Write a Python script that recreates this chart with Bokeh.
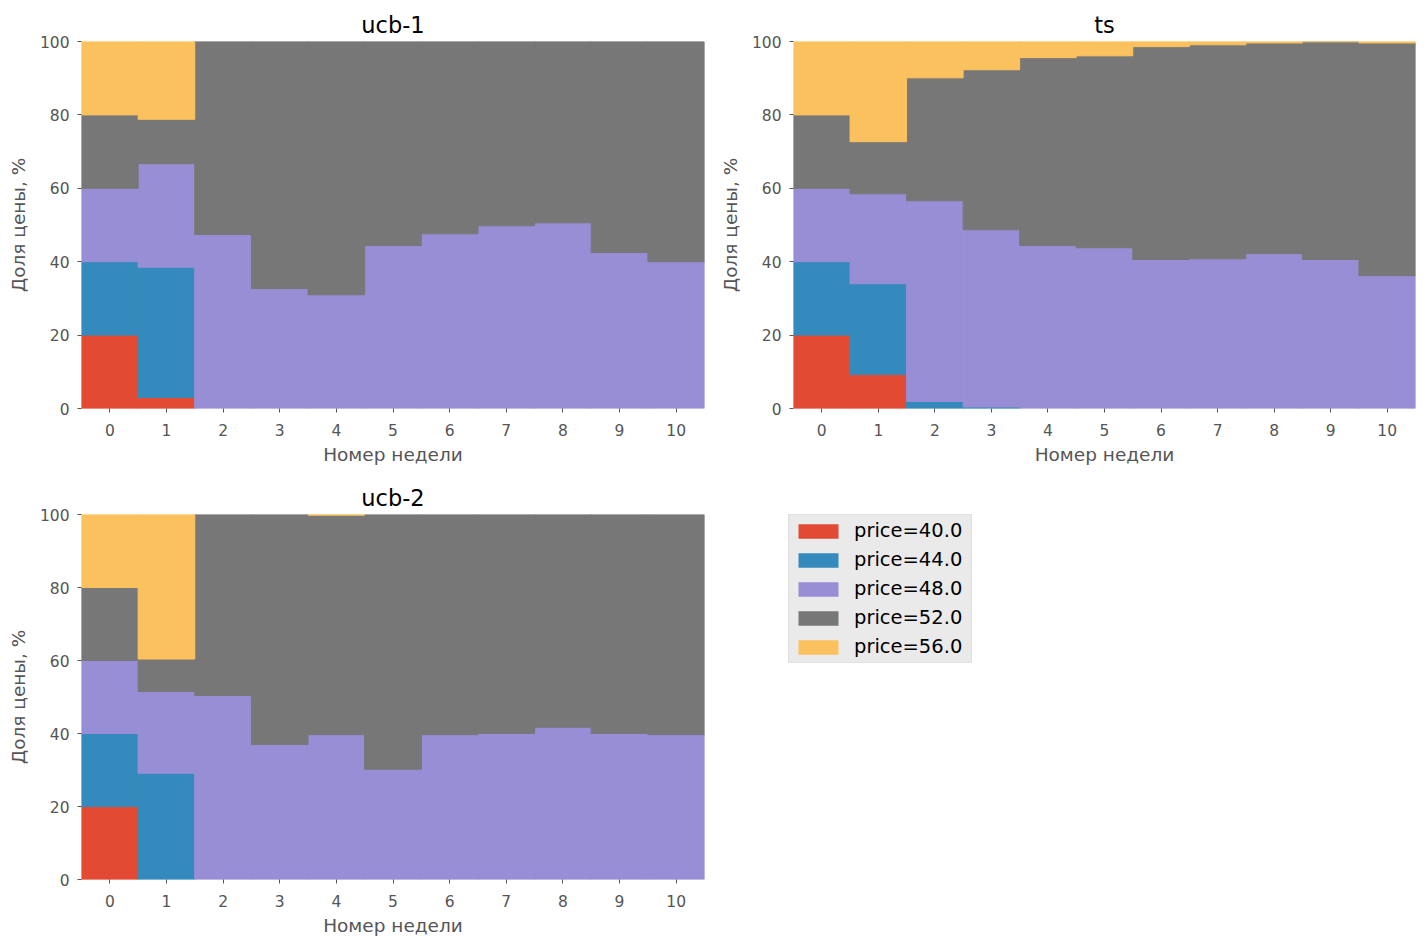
from bokeh.plotting import figure
from bokeh.models import Legend, LegendItem, FixedTicker, Range1d, ColumnDataSource
from bokeh.layouts import column, row
from bokeh.embed import file_html
from bokeh.resources import INLINE

# ---------------- data ----------------
weeks = list(range(11))
price_labels = ["price=40.0", "price=44.0", "price=48.0", "price=52.0", "price=56.0"]
colors = ["#E24A33", "#348ABD", "#988ED5", "#777777", "#FBC15E"]

ucb1_p40 = [20, 3.0, 0, 0, 0, 0, 0, 0, 0, 0, 0]
ucb1_p44 = [20, 35.5, 0, 0, 0, 0, 0, 0, 0, 0, 0]
ucb1_p48 = [20, 28.2, 47.4, 32.7, 31.0, 44.4, 47.6, 49.8, 50.6, 42.5, 40.0]
ucb1_p52 = [20, 12.1, 52.6, 67.3, 69.0, 55.6, 52.4, 50.2, 49.4, 57.5, 60.0]
ucb1_p56 = [20, 21.2, 0, 0, 0, 0, 0, 0, 0, 0, 0]

ts_p40 = [20, 9.3, 0, 0, 0, 0, 0, 0, 0, 0, 0]
ts_p44 = [20, 24.7, 1.9, 0.4, 0, 0, 0, 0, 0, 0, 0]
ts_p48 = [20, 24.5, 54.7, 48.3, 44.4, 43.8, 40.6, 40.8, 42.2, 40.6, 36.2]
ts_p52 = [20, 14.2, 33.5, 43.6, 51.2, 52.3, 58.0, 58.3, 57.4, 59.3, 63.4]
ts_p56 = [20, 27.3, 9.9, 7.7, 4.4, 3.9, 1.4, 0.9, 0.4, 0.1, 0.4]

ucb2_p40 = [20, 0, 0, 0, 0, 0, 0, 0, 0, 0, 0]
ucb2_p44 = [20, 29.1, 0, 0, 0, 0, 0, 0, 0, 0, 0]
ucb2_p48 = [20, 22.4, 50.4, 37.0, 39.7, 30.2, 39.7, 40.0, 41.7, 40.0, 39.7]
ucb2_p52 = [20, 8.9, 49.6, 63.0, 60.1, 69.8, 60.3, 60.0, 58.3, 60.0, 60.3]
ucb2_p56 = [20, 39.6, 0, 0, 0.2, 0, 0, 0, 0, 0, 0]

y_ticks = [0, 20, 40, 60, 80, 100]

FONT = "DejaVu Sans"
GREY_TXT = "#555555"


def make_panel(title, series, width, height, ml, mr, mt, mb):
    p = figure(width=width, height=height, x_range=Range1d(-0.5, 10.5),
               y_range=Range1d(0, 100), output_backend="svg", toolbar_location=None,
               min_border_left=ml, min_border_right=mr, min_border_top=mt,
               min_border_bottom=mb, title=title)
    # stacked bars: bottoms/tops built from the series values
    base = [0.0] * len(weeks)
    for s, c in zip(series, colors):
        xs, bots, tops = [], [], []
        for i, v in enumerate(s):
            if v > 0:
                xs.append(weeks[i])
                bots.append(base[i])
                tops.append(base[i] + v)
            base[i] += v
        src = ColumnDataSource(dict(x=xs, bottom=bots, top=tops))
        p.vbar(x="x", bottom="bottom", top="top", width=1.0, source=src,
               fill_color=c, line_color=c, line_width=1.0)
    p.title.text_font = FONT
    p.title.text_font_size = "22.5px"
    p.title.text_font_style = "normal"
    p.title.text_color = "#000000"
    p.title.align = "center"
    p.title.standoff = 7
    p.xaxis.ticker = FixedTicker(ticks=weeks)
    p.yaxis.ticker = FixedTicker(ticks=y_ticks)
    p.xaxis.axis_label = "Номер недели"
    p.yaxis.axis_label = "Доля цены, %"
    for ax in (p.xaxis, p.yaxis):
        ax.axis_line_color = None
        ax.major_tick_line_color = GREY_TXT
        ax.major_tick_out = 4
        ax.major_tick_in = 0
        ax.minor_tick_line_color = None
        ax.major_label_text_font = FONT
        ax.major_label_text_font_size = "15.5px"
        ax.major_label_text_color = GREY_TXT
        ax.axis_label_text_font = FONT
        ax.axis_label_text_font_size = "18.5px"
        ax.axis_label_text_font_style = "normal"
        ax.axis_label_text_color = GREY_TXT
    p.xaxis.major_label_standoff = 11
    p.yaxis.major_label_standoff = 8
    p.xaxis.axis_label_standoff = 5
    p.yaxis.axis_label_standoff = 8
    p.grid.visible = False
    p.outline_line_color = None
    p.background_fill_color = "white"
    p.border_fill_color = "white"
    return p


p1 = make_panel("ucb-1", [ucb1_p40, ucb1_p44, ucb1_p48, ucb1_p52, ucb1_p56],
                712, 470, 81, 8, 41, 62)
p2 = make_panel("ts", [ts_p40, ts_p44, ts_p48, ts_p52, ts_p56],
                713, 470, 81, 10, 41, 62)
p3 = make_panel("ucb-2", [ucb2_p40, ucb2_p44, ucb2_p48, ucb2_p52, ucb2_p56],
                712, 473, 81, 8, 42, 64)

# legend panel
p4 = figure(width=713, height=473, x_range=Range1d(0, 1), y_range=Range1d(0, 1),
            output_backend="svg", toolbar_location=None,
            min_border_left=76, min_border_right=5, min_border_top=44, min_border_bottom=64)
p4.axis.visible = False
p4.grid.visible = False
p4.outline_line_color = None
items = []
for lab, c in zip(price_labels, colors):
    # zero-area dummy bar, only used for the legend swatch
    r = p4.vbar(x=[0.5], top=[0.0], bottom=[0.0], width=0.0, fill_color=c, line_color=None)
    items.append(LegendItem(label=lab, renderers=[r]))
legend = Legend(items=items, location="top_left")
legend.margin = 0
legend.padding = 4
legend.spacing = 6
legend.glyph_width = 50
legend.glyph_height = 18
legend.label_standoff = 11
legend.label_width = 113
legend.label_text_font = FONT
legend.label_text_font_size = "19.5px"
legend.label_text_color = "#000000"
legend.background_fill_color = "#EAEAEA"
legend.background_fill_alpha = 1.0
legend.border_line_color = "#D6D6D6"
legend.border_line_width = 1
p4.add_layout(legend)

layout = column(row(p1, p2), row(p3, p4))

open("out.html", "w").write(file_html(layout, INLINE))
